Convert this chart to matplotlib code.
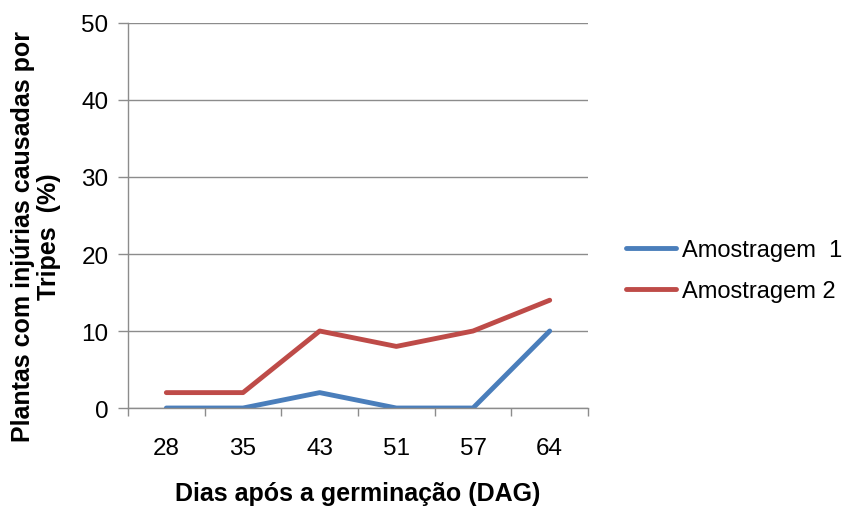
import numpy as np
import matplotlib.pyplot as plt

plt.rcParams['font.family'] = ['Liberation Sans', 'DejaVu Sans']

dias = ['28', '35', '43', '51', '57', '64']
amostragem_1 = [0, 0, 2, 0, 0, 10]
amostragem_2 = [2, 2, 10, 8, 10, 14]

fig = plt.figure(figsize=(8.51, 5.10), dpi=100)
ax = fig.add_axes([0.1504, 0.198, 0.5406, 0.755])

x = np.arange(len(dias))
ax.plot(x, amostragem_1, color='#4A7EBB', lw=3.5, label='Amostragem  1', solid_capstyle='round')
ax.plot(x, amostragem_2, color='#BE4B48', lw=3.5, label='Amostragem 2', solid_capstyle='round')

ax.set_xlim(-0.5, len(dias) - 0.5)
ax.set_ylim(0, 50)
ax.set_yticks(np.arange(0, 51, 10))
ax.yaxis.grid(True, color='#8c8c8c', lw=1)
ax.set_axisbelow(True)

# category labels centred, tick marks on the boundaries between them
ax.set_xticks(x)
ax.set_xticklabels(dias)
ax.set_xticks(np.arange(-0.5, len(dias)), minor=True)
ax.tick_params(axis='x', which='major', length=0, pad=21, labelsize=17.5)
ax.tick_params(axis='x', which='minor', length=6, color='#8c8c8c', width=1)
ax.tick_params(axis='y', length=7, color='#8c8c8c', width=1, pad=7, labelsize=17.5)

for s in ['top', 'right']:
    ax.spines[s].set_visible(False)
for s in ['left', 'bottom']:
    ax.spines[s].set_color('#8c8c8c')
    ax.spines[s].set_linewidth(1)

ax.set_xlabel('Dias após a germinação (DAG)', fontsize=18, fontweight='bold', labelpad=16)
ax.set_ylabel('Plantas com injúrias causadas por\nTripes  (%)', fontsize=18,
              fontweight='bold', linespacing=1.1, va='center')
ax.yaxis.set_label_coords(-0.2, 0.447)

ax.legend(loc='center left', bbox_to_anchor=(1.063, 0.356), frameon=False, fontsize=17,
          handlelength=2.1, handletextpad=0.25, labelspacing=0.8, borderaxespad=0)

fig.savefig('out.png', dpi=100)
